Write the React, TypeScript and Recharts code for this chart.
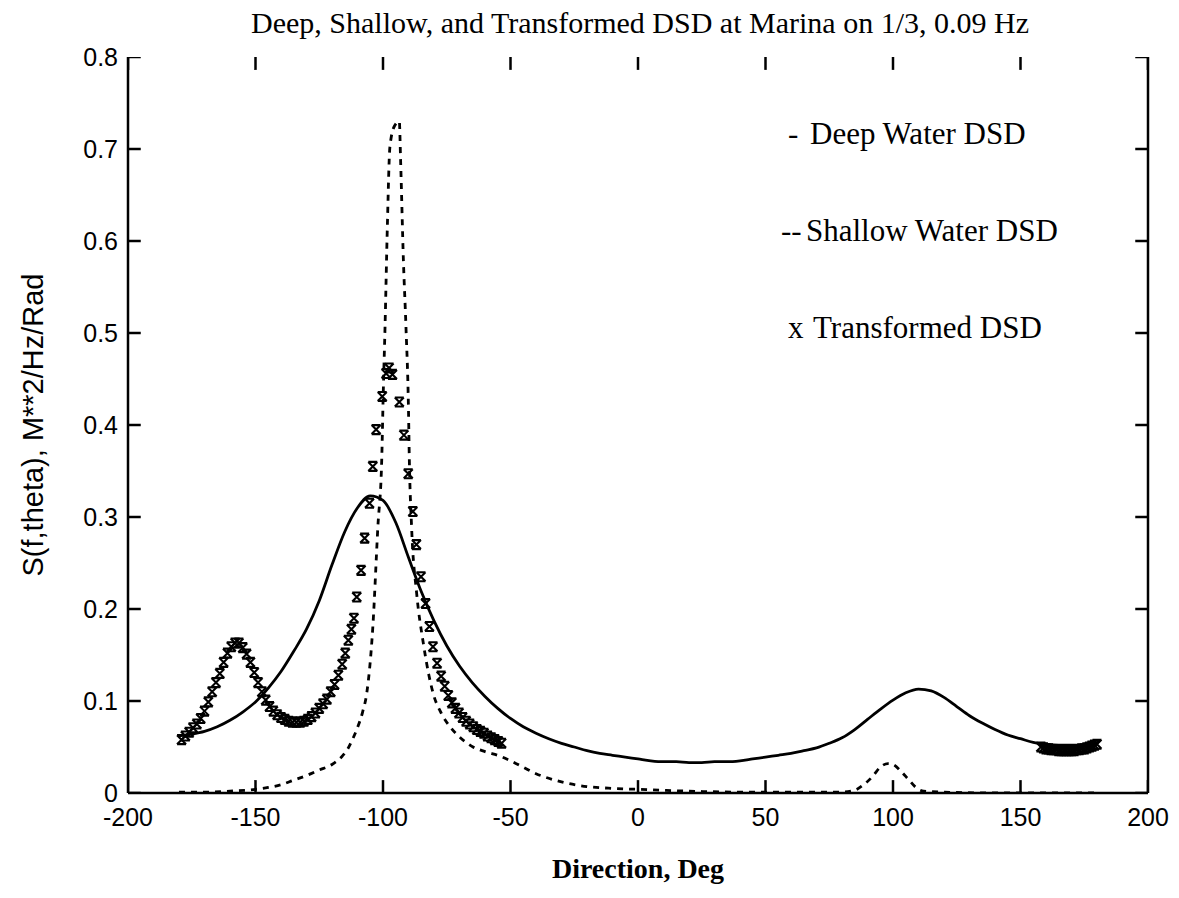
import { ComposedChart, Line, XAxis, YAxis, Legend, Label } from 'recharts';

// Deep water DSD (solid)
const deepDir = [
  -180, -175, -170, -165, -160, -155, -150, -145, -140, -135, -130, -125, -120, -115, -110, -105,
  -100, -95, -90, -85, -80, -75, -70, -65, -60, -55, -50, -45, -40, -35, -30, -25, -20, -15, -10,
  -5, 0, 5, 10, 15, 20, 25, 30, 35, 40, 45, 50, 55, 60, 65, 70, 75, 80, 85, 90, 95, 100, 105, 110,
  115, 120, 125, 130, 135, 140, 145, 150, 155, 160, 165, 170, 175, 180,
];
const deepVal = [
  0.062, 0.064, 0.067, 0.072, 0.079, 0.088, 0.099, 0.114, 0.132, 0.154, 0.178, 0.209, 0.248, 0.284,
  0.31, 0.323, 0.318, 0.294, 0.256, 0.219, 0.187, 0.16, 0.138, 0.12, 0.105, 0.092, 0.081, 0.072,
  0.065, 0.059, 0.054, 0.05, 0.046, 0.043, 0.041, 0.039, 0.037, 0.035, 0.034, 0.034, 0.033, 0.033,
  0.034, 0.034, 0.035, 0.037, 0.039, 0.041, 0.043, 0.046, 0.049, 0.054, 0.06, 0.069, 0.08, 0.091,
  0.101, 0.109, 0.113, 0.111, 0.104, 0.094, 0.084, 0.076, 0.069, 0.063, 0.059, 0.055, 0.053, 0.052,
  0.052, 0.052, 0.052,
];

// Shallow water DSD (dashed)
const shallowDir = [
  -180, -170, -160, -150, -145, -140, -135, -130, -125, -120, -116, -114, -112, -110, -108, -106.4,
  -104, -102, -100.5, -99.9, -99.2, -98.3, -97.3, -95.5, -93.6, -93.1, -92, -91, -90, -89.7, -88.8,
  -86.8, -84.2, -82, -80.3, -77, -73.7, -70, -64.7, -60, -54, -50, -45, -40, -35, -30, -20, -10, 0,
  20, 40, 60, 80, 85, 88, 92, 95, 98, 100, 103, 106, 109, 112, 120, 140, 160, 180,
];
const shallowVal = [
  0.001, 0.001, 0.002, 0.004, 0.006, 0.009, 0.014, 0.019, 0.025, 0.031, 0.04, 0.047, 0.058, 0.071,
  0.088, 0.108, 0.18, 0.29, 0.362, 0.435, 0.507, 0.615, 0.702, 0.725, 0.73, 0.688, 0.579, 0.507,
  0.416, 0.366, 0.29, 0.217, 0.163, 0.128, 0.108, 0.086, 0.072, 0.061, 0.05, 0.045, 0.04, 0.035,
  0.028, 0.021, 0.016, 0.012, 0.007, 0.005, 0.004, 0.002, 0.001, 0.001, 0.001, 0.003, 0.008, 0.018,
  0.028, 0.032, 0.031, 0.024, 0.015, 0.006, 0.002, 0.001, 0, 0, 0,
];

// Transformed DSD (x markers)
const transDir = [
  -179, -177.5, -176, -174.5, -173, -171.5, -170, -168.5, -167, -165.5, -164, -162.5, -161, -159.5,
  -158, -156.5, -155, -153.5, -152, -150.5, -149, -147.5, -146, -144.5, -143, -141.5, -140, -138.5,
  -137, -135.5, -134, -132.5, -131, -129.5, -128, -126.5, -125, -123.5, -122, -120.5, -119, -117.5,
  -116, -114.8, -113.6, -112.4, -111.4, -110.3, -108.6, -107.2, -105.3, -104, -102.7, -100.3, -98.8,
  -97.6, -96.3, -93.6, -91.8, -90.1, -88.3, -86.9, -85.1, -83.3, -81.8, -80.4, -78.8, -77.2, -75.8,
  -74.4, -73, -71.6, -70.2, -68.8, -67.4, -66, -64.6, -63.2, -61.8, -60.4, -59, -57.6, -56.2, -54.8,
  -53.5, 158, 159, 160, 161, 162, 163, 164, 165, 166, 167, 168, 169, 170, 171, 172, 173, 174, 175,
  176, 177, 178, 179, 180,
];
const transVal = [
  0.058, 0.062, 0.066, 0.071, 0.075, 0.081, 0.089, 0.099, 0.11, 0.12, 0.13, 0.142, 0.152, 0.159,
  0.163, 0.163, 0.158, 0.151, 0.142, 0.131, 0.12, 0.11, 0.101, 0.094, 0.089, 0.085, 0.082, 0.08,
  0.078, 0.077, 0.077, 0.077, 0.078, 0.08, 0.083, 0.087, 0.092, 0.097, 0.102, 0.11, 0.118, 0.128,
  0.14, 0.152, 0.166, 0.178, 0.19, 0.213, 0.242, 0.277, 0.315, 0.355, 0.395, 0.431, 0.456, 0.462,
  0.455, 0.425, 0.389, 0.347, 0.306, 0.27, 0.235, 0.206, 0.181, 0.159, 0.141, 0.127, 0.116, 0.106,
  0.098, 0.092, 0.087, 0.082, 0.078, 0.075, 0.072, 0.069, 0.067, 0.065, 0.062, 0.06, 0.058, 0.056,
  0.054, 0.05, 0.049, 0.048, 0.048, 0.047, 0.047, 0.047, 0.046, 0.046, 0.046, 0.046, 0.046, 0.046,
  0.046, 0.047, 0.047, 0.048, 0.048, 0.049, 0.05, 0.051, 0.052, 0.053,
];

const xTicks = [-200, -150, -100, -50, 0, 50, 100, 150, 200];
const yTicks = [0, 0.1, 0.2, 0.3, 0.4, 0.5, 0.6, 0.7, 0.8];
const X_MIN = -200;
const X_MAX = 200;
const Y_MIN = 0;
const Y_MAX = 0.8;
// inward tick length in axis units (about 13px)
const TICK_X = 5;
const TICK_Y = 0.014;

const title = 'Deep, Shallow, and Transformed DSD at Marina on 1/3, 0.09 Hz';
const legendRows = [
  { mark: '-', text: 'Deep Water DSD', left: 788, indent: 22 },
  { mark: '--', text: 'Shallow Water DSD', left: 781, indent: 25 },
  { mark: 'x', text: 'Transformed DSD', left: 788, indent: 25 },
];

const deepData = deepDir.map((x, i) => ({ x, y: deepVal[i] }));
const shallowData = shallowDir.map((x, i) => ({ x, y: shallowVal[i] }));
const transData = transDir.map((x, i) => ({ x, y: transVal[i] }));

// short inward tick segments on the four sides of the box
const tickSegs = [
  ...xTicks.map((t) => ({ id: `b${t}`, pts: [{ x: t, y: Y_MIN }, { x: t, y: Y_MIN + TICK_Y }] })),
  ...xTicks.map((t) => ({ id: `t${t}`, pts: [{ x: t, y: Y_MAX }, { x: t, y: Y_MAX - TICK_Y }] })),
  ...yTicks.map((t) => ({ id: `l${t}`, pts: [{ x: X_MIN, y: t }, { x: X_MIN + TICK_X, y: t }] })),
  ...yTicks.map((t) => ({ id: `r${t}`, pts: [{ x: X_MAX, y: t }, { x: X_MAX - TICK_X, y: t }] })),
];

const serif = '"Liberation Serif", "Times New Roman", serif';
const sans = '"Liberation Sans", Arial, sans-serif';

const XMark = (props: any) => {
  const { cx, cy, index } = props;
  if (cx == null || cy == null) return <g key={index} />;
  const s = 4.5;
  const d = `M${cx - s},${cy - s}L${cx + s},${cy + s}M${cx + s},${cy - s}L${cx - s},${cy + s}` +
    `M${cx - s},${cy - s}H${cx + s}M${cx - s},${cy + s}H${cx + s}`;
  return <path key={index} d={d} stroke="#000" strokeWidth={2.1} fill="none" />;
};

const BottomTick = (props: any) => {
  const { x, y, payload } = props;
  return (
    <text x={x} y={y} dy="0.71em" textAnchor="middle" fill="#000" fontSize={25} fontFamily={sans}>
      {payload.value}
    </text>
  );
};

const LeftTick = (props: any) => {
  const { x, y, payload } = props;
  return (
    <text x={x} y={y} dy="0.36em" textAnchor="end" fill="#000" fontSize={25} fontFamily={sans}>
      {payload.value}
    </text>
  );
};

const LegendBox = () => (
  <div style={{ fontFamily: serif, fontSize: 31, color: '#000', position: 'relative', width: 340, height: 260 }}>
    {legendRows.map((r, i) => (
      <div key={r.text} style={{ position: 'absolute', top: i * 97, left: r.left - 788, lineHeight: '36px', whiteSpace: 'nowrap' }}>
        <span style={{ display: 'inline-block', width: r.indent }}>{r.mark}</span>
        {r.text}
      </div>
    ))}
  </div>
);

const YTitle = (props: any) => {
  const vb = props.viewBox || {};
  const cx = 33;
  const cy = vb.y + vb.height / 2;
  return (
    <text x={cx} y={cy} transform={`rotate(-90 ${cx} ${cy})`} textAnchor="middle" dominantBaseline="central"
      fontFamily={sans} fontSize={29} fill="#000">
      S(f,theta), M**2/Hz/Rad
    </text>
  );
};

export default function App() {
  return (
    <div style={{ position: 'relative', width: 1179, height: 898, background: '#fff' }}>
      <style>{'body{margin:0;background:#fff}'}</style>
      <div
        style={{
          position: 'absolute', top: 5, left: 140, width: 1000, textAlign: 'center',
          fontFamily: serif, fontSize: 30, lineHeight: '36px', color: '#000', zIndex: 2,
        }}
      >
        {title}
      </div>
      <ComposedChart width={1179} height={898} margin={{ top: 57, right: 30, bottom: 65, left: 68 }}>
        <XAxis
          xAxisId={0}
          type="number"
          dataKey="x"
          domain={[X_MIN, X_MAX]}
          ticks={xTicks}
          allowDataOverflow
          height={40}
          axisLine={{ stroke: '#000', strokeWidth: 2.5 }}
          tickLine={false}
          tickSize={0}
          tickMargin={15}
          tick={BottomTick}
        >
          <Label value="Direction, Deg" position="bottom" offset={25} fill="#000" fontSize={28} fontWeight="bold" fontFamily={serif} />
        </XAxis>
        <XAxis
          xAxisId="top"
          orientation="top"
          type="number"
          dataKey="x"
          domain={[X_MIN, X_MAX]}
          ticks={xTicks}
          allowDataOverflow
          height={0}
          axisLine={{ stroke: '#000', strokeWidth: 2.5 }}
          tickLine={false}
          tick={false}
        />
        <YAxis
          yAxisId={0}
          type="number"
          domain={[Y_MIN, Y_MAX]}
          ticks={yTicks}
          allowDataOverflow
          width={60}
          axisLine={{ stroke: '#000', strokeWidth: 2.5 }}
          tickLine={false}
          tickSize={0}
          tickMargin={10}
          tick={LeftTick}
        >
          <Label content={YTitle} />
        </YAxis>
        <YAxis
          yAxisId="right"
          orientation="right"
          type="number"
          domain={[Y_MIN, Y_MAX]}
          ticks={yTicks}
          allowDataOverflow
          width={1}
          axisLine={{ stroke: '#000', strokeWidth: 2.5 }}
          tickLine={false}
          tick={false}
        />
        <Legend
          layout="vertical"
          align="center"
          verticalAlign="middle"
          wrapperStyle={{ left: 788, top: 116, width: 340 }}
          content={LegendBox}
        />
        {tickSegs.map((seg) => (
          <Line
            key={seg.id}
            data={seg.pts}
            xAxisId={0}
            yAxisId={0}
            dataKey="y"
            type="linear"
            stroke="#000"
            strokeWidth={2.5}
            dot={false}
            activeDot={false}
            legendType="none"
            isAnimationActive={false}
          />
        ))}
        <Line
          data={deepData}
          xAxisId={0}
          yAxisId={0}
          dataKey="y"
          name="Deep Water DSD"
          type="monotone"
          stroke="#000"
          strokeWidth={2.8}
          dot={false}
          activeDot={false}
          isAnimationActive={false}
        />
        <Line
          data={shallowData}
          xAxisId={0}
          yAxisId={0}
          dataKey="y"
          name="Shallow Water DSD"
          type="monotone"
          stroke="#000"
          strokeWidth={2.8}
          strokeDasharray="6 6"
          dot={false}
          activeDot={false}
          isAnimationActive={false}
        />
        <Line
          data={transData}
          xAxisId={0}
          yAxisId={0}
          dataKey="y"
          name="Transformed DSD"
          type="linear"
          stroke="none"
          dot={XMark}
          activeDot={false}
          isAnimationActive={false}
        />
      </ComposedChart>
    </div>
  );
}
